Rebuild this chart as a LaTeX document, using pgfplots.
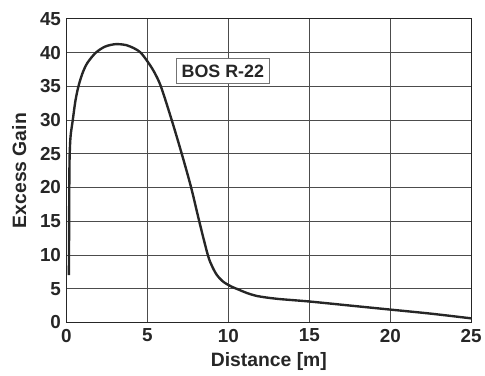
\documentclass[border=0pt]{standalone}
\usepackage{fontspec}
\setmainfont{Liberation Sans}
\usepackage{pgfplots}
\pgfplotsset{compat=1.18}
\begin{document}
\begin{tikzpicture}
\begin{axis}[
  scale only axis,
  width=408pt, height=306pt,
  xmin=0, xmax=25, ymin=0, ymax=45,
  xtick={0,5,10,15,20,25},
  ytick={0,5,...,45},
  grid=major,
  major grid style={draw=black!70, line width=0.9pt},
  axis line style={draw=black!85, line width=1.3pt},
  tick style={draw=none},
  /pgf/number format/assume math mode=true,
  tick label style={font=\fontsize{19}{21}\selectfont\bfseries, text=black!85},
  xticklabel style={yshift=-3pt},
  yticklabel style={xshift=-2pt},
  label style={font=\fontsize{19.5}{22}\selectfont\bfseries, text=black!85},
  xlabel={Distance [m]},
  ylabel={Excess Gain},
  xlabel style={yshift=-3pt},
  ylabel style={yshift=7pt},
  clip=false,
]
\addplot[black!85, line width=2.4pt, smooth, tension=0.5] coordinates {
(0.15,7) (0.16,12) (0.17,18) (0.19,24) (0.25,27.5) (0.39,30) (0.55,32.8) (0.74,35)
(1.0,37) (1.3,38.5) (1.82,40) (2.4,40.9) (3.05,41.25) (3.7,41.1) (4.2,40.6)
(4.58,40) (5.0,38.7) (5.4,37.2) (5.83,35) (6.5,30) (7.12,25) (7.7,20)
(8.2,15) (8.73,10) (9.0,8.3) (9.3,7.0) (9.7,6.0) (10.2,5.3) (10.6,4.9)
(11.1,4.4) (11.8,3.9) (13,3.5) (15,3.1) (17.5,2.5) (20,1.9) (22.5,1.3) (25,0.6)
};
\node[draw=black!55, fill=white, line width=0.8pt, inner sep=3pt,
  minimum width=94pt, minimum height=25pt,
  font=\fontsize{18}{20}\selectfont\bfseries, text=black!85]
  at (axis cs:9.66,37.25) {BOS R-22};
\end{axis}
\path ([xshift=-67pt,yshift=-54pt]current axis.south west) rectangle ([xshift=10pt,yshift=19pt]current axis.north east);
\end{tikzpicture}
\end{document}
